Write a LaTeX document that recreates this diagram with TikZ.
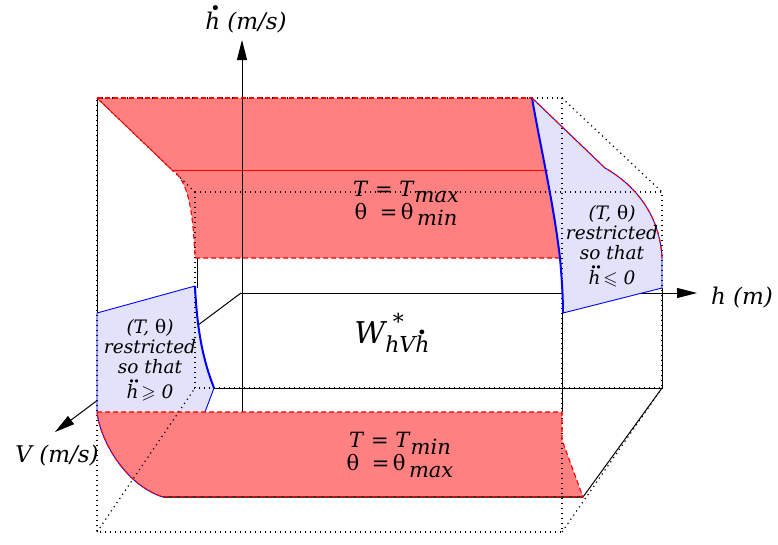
\documentclass[tikz,border=0pt]{standalone}
\usepackage{fontspec}
\setmainfont{DejaVu Serif}
\usepackage{amssymb}
\usetikzlibrary{arrows.meta}
\definecolor{bandred}{RGB}{255,128,128}
\definecolor{lav}{RGB}{226,226,250}
\newcommand{\hd}[1][0.22em]{\leavevmode\makebox[0pt][l]{\kern#1\raisebox{0.66em}{\scalebox{0.75}{\textbullet}}}h}
\newcommand{\hdd}{\leavevmode\makebox[0pt][l]{\kern0.10em\raisebox{0.70em}{\scalebox{0.6}{\textbullet\kern-0.15em\textbullet}}}h}
\begin{document}
\begin{tikzpicture}[x=1pt,y=-1pt,
  dotln/.style={black, line width=1.2pt, dash pattern=on 1.2pt off 3.8pt},
  solidln/.style={black, line width=1pt},
  reddash/.style={red, line width=1.1pt, dash pattern=on 5pt off 3pt},
  bluethick/.style={blue, line width=2pt},
  bluethin/.style={blue, line width=0.9pt},
  axisln/.style={black, line width=1pt, -{Triangle[length=20pt,width=10pt]}},
  lbl/.style={font=\fontsize{23}{24}\selectfont\itshape, inner sep=0pt},
  big/.style={font=\fontsize{21}{23}\selectfont, inner sep=0pt, align=center},
  small/.style={font=\fontsize{18.5}{20}\selectfont\itshape, inner sep=0pt, align=center}]
\useasboundingbox (0,0) rectangle (778,544);
% named points
\coordinate (O) at (241,293);
\coordinate (F1) at (97,98); \coordinate (F2) at (562,98);
\coordinate (F3) at (562,532); \coordinate (F4) at (97,532);
\coordinate (B1) at (195,192); \coordinate (B2) at (662,192);
\coordinate (B3) at (662,388); \coordinate (B4) at (195,388);
\coordinate (hx) at (697,293); \coordinate (vx) at (55,432);
\coordinate (hdx) at (242,40);
% solid lines underneath
\draw[solidln] (97,98) -- (97,412);
\draw[solidln] (197,258) -- (197,288);
\draw[axisln] (O) -- (hx);
\draw[axisln] (O) -- (vx);
\draw[solidln] (214,388) -- (B3) -- (662,288);
\draw[solidln] (B3) -- (583,497);
\draw[solidln] (562,313) -- (562,412);
% fills
\fill[bandred] (97,98) -- (532,98) .. controls (541,150) and (553,200) .. (560,258)
  -- (195,258) .. controls (193,210) and (188,180) .. (172,170) -- cycle;
\fill[lav] (532,98) -- (605,168) .. controls (635,185) and (660,215) .. (662,258)
  -- (662,288) -- (563,313) .. controls (563,300) and (562,280) .. (560,258)
  .. controls (553,200) and (541,150) .. (532,98) -- cycle;
\fill[lav] (97,313) -- (195,286) .. controls (197,330) and (203,360) .. (214,388)
  -- (205,412) -- (97,412) -- cycle;
\fill[bandred] (97,412) -- (562,412) -- (562,440) -- (583,497) -- (163,497)
  .. controls (125,485) and (100,440) .. (97,412) -- cycle;
% dotted box
\draw[dotln] (F1) -- (F2) -- (F3) -- (F4) -- cycle;
\draw[dotln] (B1) -- (B2) -- (B3) -- (B4) -- cycle;
\draw[dotln] (F1) -- (B1);
\draw[dotln] (F2) -- (B2);
\draw[dotln] (F3) -- (B3);
\draw[dotln] (F4) -- (B4);
% solid over fill
\draw[axisln] (242,412) -- (hdx);
\draw[red, line width=1pt] (172,170) -- (548,170);
\draw[black!80, line width=1.2pt] (163,497) -- (583,497);
% outlines
\draw[reddash] (97,98) -- (532,98);
\draw[red, line width=0.9pt] (97,98) -- (172,170);
\draw[reddash] (560,258) -- (195,258) .. controls (193,210) and (188,180) .. (172,170);
\draw[bluethick] (532,98) .. controls (541,150) and (553,200) .. (560,258)
  .. controls (562,280) and (563,300) .. (563,313);
\draw[bluethin] (563,313) -- (662,288) -- (662,258);
\draw[bluethin] (532,98) -- (605,168) .. controls (635,185) and (660,215) .. (662,258);
\draw[reddash] (532,98) -- (605,168) .. controls (635,185) and (660,215) .. (662,258);
\draw[bluethin] (97,412) -- (97,313) -- (195,286);
\draw[bluethick] (195,286) .. controls (197,330) and (203,360) .. (214,388);
\draw[bluethin] (214,388) -- (205,412);
\draw[bluethin] (163,497) .. controls (125,485) and (100,440) .. (97,412);
\draw[reddash] (97,412) -- (562,412) -- (562,440) -- (583,497) -- (163,497)
  .. controls (125,485) and (100,440) .. (97,412);
% labels
\node[lbl] (lhd) at (246,19) {\hd\ (m/s)};
\node[lbl] (lh) at (742,298) {h (m)};
\node[lbl] (lv) at (57,456) {V (m/s)};
\node[big] (tmax) at (406,203) {\textit{T} = \textit{T}\raisebox{-0.3em}{\textit{max}}\\ θ \;=\,θ\,\raisebox{-0.3em}{\textit{min}}};
\node[big] (tmin) at (400,455) {\textit{T} = \textit{T}\raisebox{-0.3em}{\textit{min}}\\ θ \;=\,θ\,\raisebox{-0.3em}{\textit{max}}};
\node[small] (rr) at (612,246) {(\textit{T}, \textup{θ})\\restricted\\so that\\[5pt]\hdd$\,\leqslant$ 0};
\node[small] (rl) at (150,360) {(\textit{T}, \textup{θ})\\restricted\\so that\\[5pt]\hdd$\,\geqslant$ 0};
\node[inner sep=0pt] (W) at (392,333) {\fontsize{30}{30}\selectfont\itshape W\rlap{\raisebox{0.45em}{\kern0.25em\fontsize{22}{22}\selectfont\upshape *}}\raisebox{-0.32em}{\fontsize{22}{22}\selectfont hV\hd[0.08em]}};
\end{tikzpicture}
\end{document}
